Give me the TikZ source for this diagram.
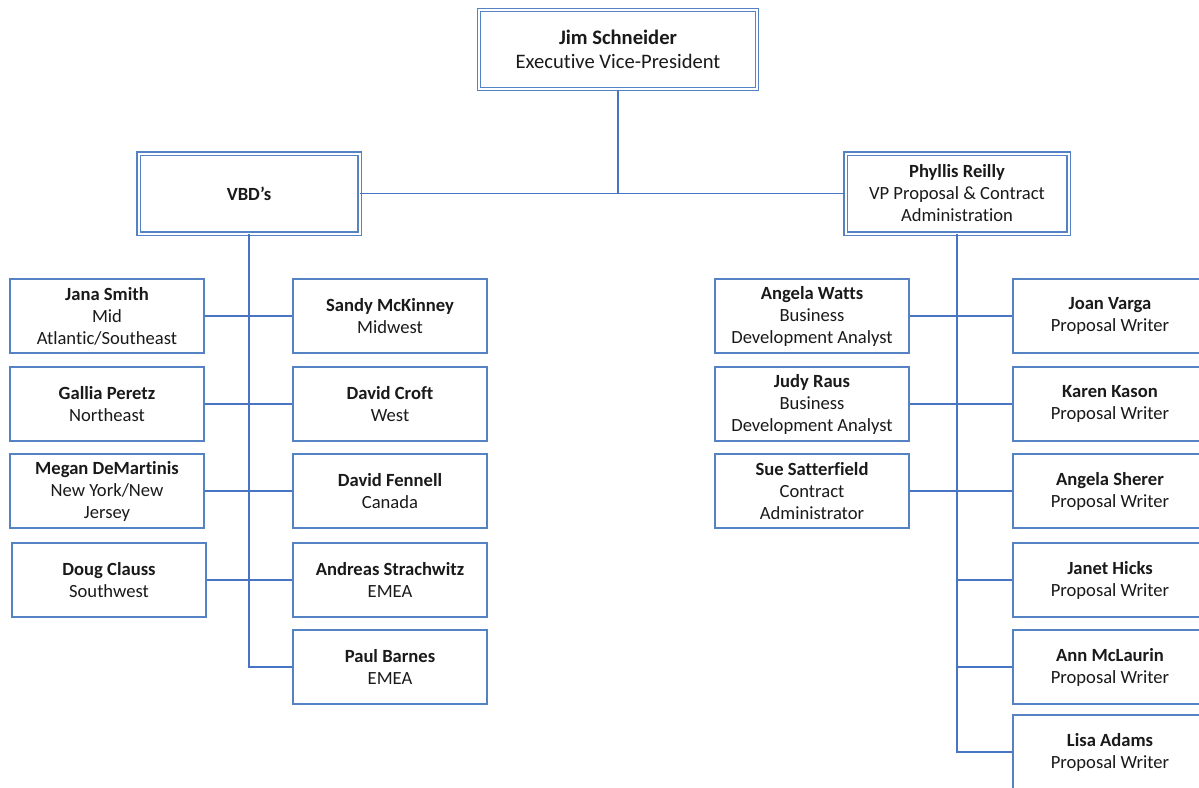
\documentclass[tikz,border=0pt]{standalone}
\usepackage{fontspec}
\setmainfont[RawFeature={-liga;-clig;-calt;-dlig}]{Carlito}
\definecolor{boxblue}{RGB}{84,130,196}
\definecolor{lineblue}{RGB}{72,116,196}
\definecolor{txt}{RGB}{26,26,26}
\begin{document}
\begin{tikzpicture}[x=1pt,y=-1pt,
  box/.style={draw=boxblue, line width=1.7pt, fill=white, align=center, text=txt,
    minimum width=194pt, minimum height=74pt, inner sep=0pt,
    font=\fontsize{18.6}{22}\selectfont},
  dbox/.style={draw=boxblue, double=white, double distance=2pt, line width=1.2pt,
    fill=white, align=center, text=txt, inner sep=0pt,
    font=\fontsize{18.6}{22}\selectfont},
  conn/.style={draw=lineblue, line width=1.3pt}]
\useasboundingbox (0,0) rectangle (1199,787);
\clip (0,0) rectangle (1199,787);

% top-level boxes
\node[dbox, minimum width=277.5pt, minimum height=79.5pt, font=\fontsize{20.6}{24}\selectfont]
  (jim) at (618,49.5) {\textbf{Jim Schneider}\\Executive Vice-President};
\node[dbox, minimum width=221pt, minimum height=80pt] (vbd) at (249,193.5) {\textbf{VBD’s}};
\node[dbox, minimum width=223pt, minimum height=80pt] (phy) at (957,193.5)
  {\textbf{Phyllis Reilly}\\VP Proposal \& Contract\\Administration};

% left group
\node[box] (jana) at (107,316) {\textbf{Jana Smith}\\Mid\\Atlantic/Southeast};
\node[box] (sandy) at (390,316) {\textbf{Sandy McKinney}\\Midwest};
\node[box] (gallia) at (107,404) {\textbf{Gallia Peretz}\\Northeast};
\node[box] (croft) at (390,404) {\textbf{David Croft}\\West};
\node[box] (megan) at (107,491) {\textbf{Megan DeMartinis}\\New York/New\\Jersey};
\node[box] (fennell) at (390,491) {\textbf{David Fennell}\\Canada};
\node[box] (doug) at (109,580) {\textbf{Doug Clauss}\\Southwest};
\node[box] (andreas) at (390,580) {\textbf{Andreas Strachwitz}\\EMEA};
\node[box] (paul) at (390,667) {\textbf{Paul Barnes}\\EMEA};

% right group
\node[box] (watts) at (812,316) {\textbf{Angela Watts}\\Business\\Development Analyst};
\node[box] (joan) at (1110,316) {\textbf{Joan Varga}\\Proposal Writer};
\node[box] (judy) at (812,404) {\textbf{Judy Raus}\\Business\\Development Analyst};
\node[box] (karen) at (1110,404) {\textbf{Karen Kason}\\Proposal Writer};
\node[box] (sue) at (812,491) {\textbf{Sue Satterfield}\\Contract\\Administrator};
\node[box] (sherer) at (1110,491) {\textbf{Angela Sherer}\\Proposal Writer};
\node[box] (janet) at (1110,580) {\textbf{Janet Hicks}\\Proposal Writer};
\node[box] (ann) at (1110,667) {\textbf{Ann McLaurin}\\Proposal Writer};
\node[box] (lisa) at (1110,752) {\textbf{Lisa Adams}\\Proposal Writer};

% connectors
\path[conn] (vbd.east) -- (phy.west);
\path[conn] (jim.south) -- (jim.south |- vbd.east);
\path[conn] (vbd.south) |- (paul.west);
\path[conn] (jana.east) -- (sandy.west);
\path[conn] (gallia.east) -- (croft.west);
\path[conn] (megan.east) -- (fennell.west);
\path[conn] (doug.east) -- (andreas.west);
\path[conn] (phy.south) |- (lisa.west);
\path[conn] (watts.east) -- (joan.west);
\path[conn] (judy.east) -- (karen.west);
\path[conn] (sue.east) -- (sherer.west);
\path[conn] (phy.south |- janet.west) -- (janet.west);
\path[conn] (phy.south |- ann.west) -- (ann.west);
\end{tikzpicture}
\end{document}
